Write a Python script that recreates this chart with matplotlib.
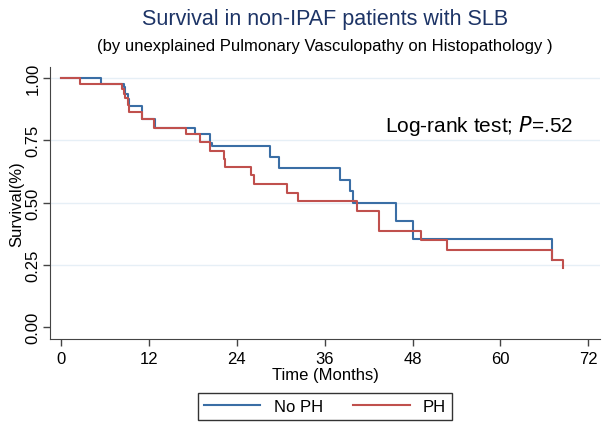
import matplotlib.pyplot as plt

# Kaplan-Meier step points (months, survival)
no_ph_t = [0, 5.4, 8.6, 8.8, 9.1, 9.3, 11.0, 11.1, 12.9, 18.3, 20.3, 20.6,
           28.6, 29.7, 38.1, 39.5, 39.9, 45.8, 48.1, 67.1]
no_ph_s = [1.0, 0.975, 0.962, 0.936, 0.916, 0.888, 0.862, 0.835, 0.80, 0.775, 0.74, 0.728,
           0.681, 0.637, 0.59, 0.547, 0.50, 0.427, 0.353, 0.27]

ph_t = [0, 2.6, 8.3, 8.6, 8.8, 9.1, 9.3, 11.0, 12.7, 17.1, 19.0, 20.4, 22.2, 22.4,
        25.9, 26.3, 30.8, 32.4, 40.4, 43.4, 49.1, 52.7, 67.1, 68.5]
ph_s = [1.0, 0.975, 0.956, 0.936, 0.918, 0.89, 0.862, 0.835, 0.80, 0.775, 0.742, 0.708, 0.675, 0.641,
        0.61, 0.574, 0.54, 0.505, 0.465, 0.387, 0.349, 0.309, 0.27, 0.236]

x_ticks = [0, 12, 24, 36, 48, 60, 72]
y_ticks = [0, 0.25, 0.5, 0.75, 1.0]

plt.rcParams['font.family'] = ['Liberation Sans', 'DejaVu Sans']

fig = plt.figure(figsize=(6.04, 4.27), dpi=100)
ax = fig.add_axes([0.0828, 0.2037, 0.9106, 0.637])

for y in y_ticks[1:]:
    ax.axhline(y, color='#e6eff6', lw=1.0, zorder=0)

ax.step(no_ph_t, no_ph_s, where='post', color='#3a6ea5', lw=1.5, label='No PH')
ax.step(ph_t, ph_s, where='post', color='#c0504d', lw=1.5, label='PH')

ax.set_xlim(-1.5, 73.6)
ax.set_ylim(-0.048, 1.044)
ax.set_xticks(x_ticks)
ax.set_yticks(y_ticks)
ax.set_yticklabels(['%.2f' % v for v in y_ticks], rotation=90, va='center')
ax.tick_params(labelsize=12, length=5, color='#444444', width=1)
ax.tick_params(axis='y', pad=2)
ax.spines['top'].set_visible(False)
ax.spines['right'].set_visible(False)
ax.spines['left'].set_color('#444444')
ax.spines['bottom'].set_color('#444444')
ax.set_xlabel('Time (Months)', fontsize=12, labelpad=1)
ax.set_ylabel('Survival(%)', fontsize=12, labelpad=1)

ax.text(69.9, 0.81, 'Log-rank test; $\\it{P}$=.52', fontsize=15, ha='right', va='center')

fig.text(0.538, 0.955, 'Survival in non-IPAF patients with SLB', fontsize=15.5,
         color='#1d3466', ha='center', va='center')
fig.text(0.538, 0.892, '(by unexplained Pulmonary Vasculopathy on Histopathology )', fontsize=12,
         ha='center', va='center')

leg = fig.legend(loc='center', bbox_to_anchor=(0.538, 0.046), ncol=2, fontsize=12,
                 handlelength=3.4, columnspacing=1.8, fancybox=False, edgecolor='#333333',
                 borderpad=0.35, framealpha=1)
leg.get_frame().set_linewidth(1.0)

fig.savefig('out.png', dpi=100)
